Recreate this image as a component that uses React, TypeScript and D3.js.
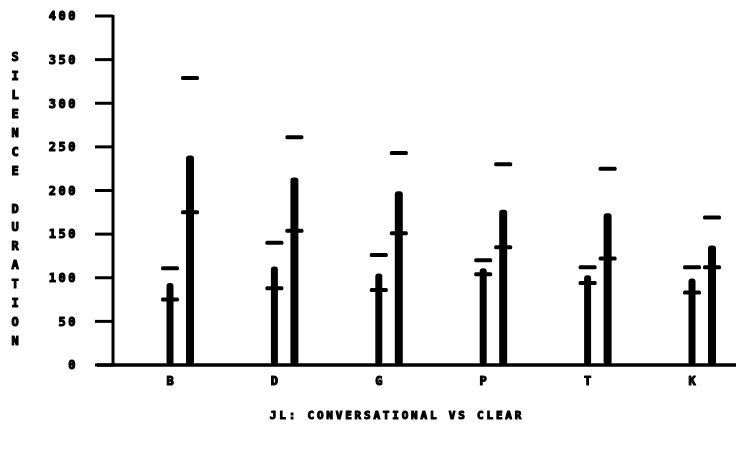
import React from "react";
import * as d3 from "d3";

// Stop consonants on the x axis
const categories = ["B", "D", "G", "P", "T", "K"];

// Conversational speech: bar height, mean tick, upper marker (ms)
const conversationalBar = [94, 113, 105, 111, 103, 99];
const conversationalMean = [75, 88, 86, 104, 94, 83];
const conversationalMarker = [111, 140, 126, 120, 112, 112];

// Clear speech: bar height, mean tick, upper marker (ms)
const clearBar = [240, 215, 199, 178, 174, 137];
const clearMean = [175, 154, 151, 135, 122, 112];
const clearMarker = [329, 261, 243, 230, 225, 169];

const yTicks = [0, 50, 100, 150, 200, 250, 300, 350, 400];
const yTitle = "SILENCE DURATION";
const xTitle = "JL: CONVERSATIONAL VS CLEAR";

const W = 736;
const H = 462;
const FONT = "'DejaVu Sans Mono', monospace";

// heavy plotter-style lettering
const textStyle = {
  fontFamily: FONT,
  fontWeight: "bold" as const,
  fill: "#000",
  stroke: "#000",
  strokeWidth: 1.1,
  strokeLinejoin: "round" as const,
};

export default function App() {
  const axisX = 113;
  const y = d3.scaleLinear().domain([0, 400]).range([365, 16]);
  const x = d3.scalePoint<string>().domain(categories).range([170, 692]);
  const pairGap = 20;

  const series = [
    { bar: conversationalBar, mean: conversationalMean, marker: conversationalMarker, dx: 0, w: 7 },
    { bar: clearBar, mean: clearMean, marker: clearMarker, dx: pairGap, w: 8 },
  ];

  const titleLetters = yTitle.split("");
  const titleStep = 18.9;

  return (
    <svg
      width={W}
      height={H}
      style={{ position: "absolute", left: 0, top: 0, background: "#fff" }}
    >
      <rect width={W} height={H} fill="#fff" />
      <g style={{ filter: "blur(0.35px)" }}>
        {/* y axis */}
        <line x1={axisX} x2={axisX} y1={y(400) - 1} y2={y(0)} stroke="#000" strokeWidth={3} />
        {yTicks.map((t) => (
          <g key={t}>
            <line x1={95} x2={axisX} y1={y(t)} y2={y(t)} stroke="#000" strokeWidth={3} />
            <text
              x={78}
              y={y(t)}
              dy="0.36em"
              textAnchor="end"
              fontSize={12}
              letterSpacing={2.5}
              style={textStyle}
            >
              {t}
            </text>
          </g>
        ))}
        {/* baseline */}
        <line x1={97} x2={W} y1={y(0)} y2={y(0)} stroke="#000" strokeWidth={3.5} />

        {/* bars, mean ticks and upper markers */}
        {series.map((s, si) =>
          categories.map((c, i) => {
            const cx = (x(c) as number) + s.dx;
            return (
              <g key={`${si}-${c}`}>
                <rect
                  x={cx - s.w / 2}
                  y={y(s.bar[i])}
                  width={s.w}
                  height={y(0) - y(s.bar[i])}
                  rx={3}
                  fill="#000"
                />
                <rect x={cx - 9} y={y(s.mean[i]) - 2} width={18} height={4} rx={1.5} fill="#000" />
                <rect x={cx - 9} y={y(s.marker[i]) - 2} width={18} height={4} rx={1.5} fill="#000" />
              </g>
            );
          })
        )}

        {/* category labels */}
        {categories.map((c) => (
          <text
            key={c}
            x={x(c) as number}
            y={381}
            dy="0.36em"
            textAnchor="middle"
            fontSize={12}
            style={textStyle}
          >
            {c}
          </text>
        ))}

        {/* vertical axis title, one letter per line */}
        {titleLetters.map((ch, i) =>
          ch === " " ? null : (
            <text
              key={i}
              x={15}
              y={57 + i * titleStep}
              dy="0.36em"
              textAnchor="middle"
              fontSize={12}
              style={textStyle}
            >
              {ch}
            </text>
          )
        )}

        {/* chart title */}
        <text
          x={397}
          y={415}
          dy="0.36em"
          textAnchor="middle"
          fontSize={11}
          letterSpacing={2.8}
          style={textStyle}
        >
          {xTitle}
        </text>
      </g>
    </svg>
  );
}
